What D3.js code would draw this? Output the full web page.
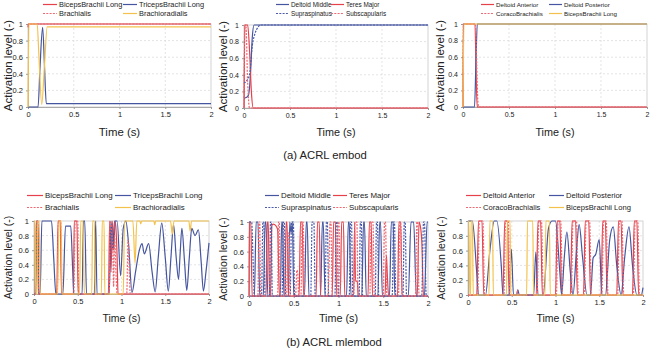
<!DOCTYPE html>
<html><head><meta charset="utf-8">
<script src="https://cdn.jsdelivr.net/npm/d3@7"></script>
<style>body{margin:0;background:#fff;} text{font-family:"Liberation Sans",Arial,sans-serif;fill:#222;}</style>
</head><body>
<svg id="chart" width="650" height="350"></svg>
<script>
// ---------- tick labels ----------
const xTickValues = [0, 0.5, 1, 1.5, 2];
const xTickLabels = ["0", "0.5", "1", "1.5", "2"];
const yTickValues = [0, 0.2, 0.4, 0.6, 0.8, 1];
const yTickLabels = ["0", "0.2", "0.4", "0.6", "0.8", "1"];
const captions = ["(a) ACRL embod", "(b) ACRL mlembod"];
const xTitle = "Time (s)";
const yTitle = "Activation level (-)";

// ---------- (a) ACRL embod : elbow ----------
const embodElbowNames = ["BicepsBrachii Long", "TricepsBrachii Long", "Brachialis", "Brachioradialis"];
const embodBicepsLong = [[0,0.96],[0.005,1],[2,1]];
const embodTriceps = [[0,0],[0.11,0],[0.13,0.45],[0.16,0.96],[0.18,0.5],[0.2,0.04],[0.3,0.04],[2,0.04]];
const embodBrachialis = [[0,0.98],[0.005,1],[2,1]];
const embodBrachioradialis = [[0,0],[0.01,1],[0.1,1],[0.12,0.6],[0.15,0.03],[0.18,0.5],[0.21,0.965],[0.3,0.965],[2,0.965]];

// ---------- (a) ACRL embod : shoulder ----------
const embodShoulderNames = ["Deltoid Middle", "Teres Major", "Supraspinatus", "Subscapularis"];
const embodDeltoidMiddle = [[0,0.12],[0.03,0.13],[0.05,0.16],[0.07,0.4],[0.09,0.85],[0.11,1],[0.2,1],[2,1]];
const embodTeresMajor = [[0,0],[0.01,1],[0.04,1],[0.06,0.7],[0.08,0.2],[0.1,0],[0.2,0],[2,0]];
const embodSupraspinatus = [[0,0.3],[0.03,0.33],[0.06,0.4],[0.09,0.75],[0.12,0.9],[0.15,0.97],[0.18,1],[0.3,1],[2,1]];
const embodSubscapularis = [[0,0],[0.008,1],[0.02,1],[0.04,0.3],[0.06,0],[0.2,0],[2,0]];

// ---------- (a) ACRL embod : shoulder 2 ----------
const embodShoulder2Names = ["Deltoid Anterior", "Deltoid Posterior", "CoracoBrachialis", "BicepsBrachii Long"];
const embodDeltoidAnterior = [[0,0],[0.005,1],[0.13,1],[0.145,0.3],[0.155,0],[0.3,0],[2,0]];
const embodDeltoidPosterior = [[0,0],[0.125,0],[0.14,0.5],[0.155,1],[0.3,1],[2,1]];
const embodCoracoBrachialis = [[0,0],[0.005,1],[0.135,1],[0.15,0.5],[0.16,0.1],[0.17,0],[0.3,0],[2,0]];
const embodBicepsLong2 = [[0,0],[0.01,1],[0.3,1],[2,1]];

// ---------- (b) ACRL mlembod : elbow ----------
const mlBicepsLong = [[0,0],[0.015,0],[0.025,1],[0.04,1],[0.05,0],[0.26,0],[0.275,1],[0.3,1],[0.315,0],[0.45,0],[0.46,1],[0.49,1],[0.505,0],[0.85,0],[0.865,1],[0.88,0.3],[0.895,1],[0.91,0.6],[0.93,1],[0.95,0.5],[0.96,0],[1.2,0],[2,0]];
const mlTriceps = [[0,0],[0.02,0],[0.035,1],[0.045,1],[0.055,0],[0.07,0],[0.09,1],[0.2,1],[0.225,0.5],[0.25,0],[0.33,0],[0.36,0.93],[0.42,0.93],[0.44,0.4],[0.455,0],[0.55,0],[0.565,1],[0.58,1],[0.6,0],[0.69,0],[0.705,1],[0.72,0],[0.86,0],[0.88,1],[0.9,0.6],[0.92,1],[0.95,1],[0.99,0.25],[1.02,0.9],[1.05,1],[1.08,0.7],[1.12,0.02],[1.16,0.3],[1.2,0.58],[1.235,0.69],[1.26,0.55],[1.31,0.69],[1.35,0.3],[1.385,0.03],[1.42,0.5],[1.46,0.97],[1.5,0.5],[1.535,0.04],[1.565,0.5],[1.595,0.95],[1.625,0.5],[1.652,0.2],[1.67,0.55],[1.69,0.9],[1.72,0.45],[1.746,0.05],[1.775,0.5],[1.803,0.9],[1.84,0.8],[1.879,0.88],[1.91,0.45],[1.936,0.04],[1.965,0.3],[2,0.7]];
const mlBrachialis = [[0,0],[0.02,0],[0.03,1],[0.045,1],[0.055,0],[0.265,0],[0.28,1],[0.305,1],[0.32,0],[0.455,0],[0.47,1],[0.5,1],[0.51,0],[0.86,0],[0.87,1],[0.9,0.6],[0.91,0.1],[0.92,0.8],[0.94,0.2],[0.95,0],[1.06,0],[1.075,0.74],[1.09,0.3],[1.1,0],[1.3,0],[2,0]];
const mlBrachioradialis = [[0,1],[0.01,1],[0.02,0],[0.035,0],[0.04,1],[0.06,1],[0.07,0],[0.27,0],[0.285,1],[0.31,1],[0.32,0],[0.52,0],[0.535,1],[0.56,1],[0.575,0],[0.66,0],[0.67,1],[0.69,1],[0.7,0],[0.77,0],[0.78,1],[0.8,1],[0.81,0],[1.02,0],[1.035,1],[1.13,1],[1.155,0.42],[1.175,1],[1.21,1],[1.22,0.96],[1.23,1],[1.37,1],[1.38,0.95],[1.39,1],[1.56,1],[1.58,0.82],[1.6,1],[1.77,1],[1.785,0.86],[1.8,1],[2,1]];

// ---------- (b) ACRL mlembod : shoulder ----------
const mlDeltoidMiddle = [[0,0],[0.06,0],[0.08,1],[0.1,1],[0.12,0],[0.16,0],[0.18,1],[0.19,1],[0.21,0],[0.35,0],[0.365,1],[0.375,1],[0.39,0],[0.44,0],[0.455,1],[0.47,0.85],[0.485,1],[0.5,0],[0.62,0],[0.64,1],[0.65,1],[0.67,0],[0.8,0],[0.82,1],[0.83,1],[0.85,0],[1.09,0],[1.11,1],[1.12,1],[1.14,0],[1.26,0],[1.28,1],[1.29,1],[1.31,0],[1.44,0],[1.46,1],[1.47,1],[1.49,0],[1.57,0],[1.59,1],[1.61,1],[1.63,0],[1.78,0],[1.81,1],[1.84,1],[1.87,0],[1.96,0],[1.99,1],[2,1]];
const mlTeresMajor = [[0,0],[0.005,1],[0.02,1],[0.035,0],[0.19,0],[0.205,1],[0.215,1],[0.23,0],[0.24,0],[0.255,0.95],[0.27,0.97],[0.3,0.95],[0.32,0.9],[0.34,0],[0.4,0],[0.415,1],[0.425,1],[0.44,0],[0.56,0],[0.575,1],[0.595,1],[0.61,0],[0.75,0],[0.765,1],[0.785,1],[0.8,0],[0.93,0],[0.945,1],[0.965,1],[0.98,0],[1.02,0],[1.035,1],[1.055,1],[1.07,0],[1.17,0],[1.18,1],[1.19,0.2],[1.21,0.2],[1.22,0],[1.33,0],[1.345,1],[1.365,1],[1.38,0],[1.52,0],[1.535,0.55],[1.545,0.3],[1.56,0],[1.66,0],[1.675,1],[1.695,1],[1.71,0],[1.88,0],[1.9,1],[1.92,0.9],[1.93,0.75],[1.95,0],[2,0]];
const mlSupraspinatus = [[0,1],[0.03,1],[0.045,0.5],[0.06,0],[0.14,0],[0.155,1],[0.165,1],[0.18,0],[0.23,0],[0.24,1],[0.25,1],[0.26,0],[0.37,0],[0.385,1],[0.395,1],[0.41,0],[0.46,0],[0.475,1],[0.495,1],[0.51,0],[0.69,0],[0.705,1],[0.725,1],[0.74,0],[0.85,0],[0.865,1],[0.875,1],[0.89,0],[0.96,0],[0.975,1],[0.985,1],[1.0,0],[1.12,0],[1.135,1],[1.145,1],[1.16,0],[1.23,0],[1.245,1],[1.255,1],[1.27,0],[1.41,0],[1.425,1],[1.435,1],[1.45,0],[1.6,0],[1.615,1],[1.625,1],[1.64,0],[1.72,0],[1.735,1],[1.745,1],[1.76,0],[1.93,0],[1.95,1],[1.96,1],[1.98,0],[2,0]];
const mlSubscapularis = [[0,0],[0.1,0],[0.11,1],[0.12,1],[0.13,0],[0.32,0],[0.33,1],[0.34,1],[0.35,0],[0.42,0],[0.435,0.85],[0.445,0.85],[0.46,0],[0.52,0],[0.535,0.35],[0.545,0.3],[0.555,0],[0.58,0],[0.595,1],[0.605,1],[0.62,0],[0.88,0],[0.895,0.4],[0.905,1],[0.915,1],[0.93,0],[0.98,0],[0.995,1],[1.005,1],[1.02,0],[1.17,0],[1.185,1],[1.205,1],[1.22,0],[1.35,0],[1.365,1],[1.385,1],[1.4,0],[1.5,0],[1.515,1],[1.525,1],[1.54,0],[1.67,0],[1.685,1],[1.695,1],[1.71,0],[1.86,0],[1.875,1],[1.885,1],[1.9,0],[2,0]];

// ---------- (b) ACRL mlembod : shoulder 2 ----------
const mlDeltoidAnterior = [[0,0],[0.1,0],[0.12,1],[0.16,1],[0.18,0],[0.4,0],[0.42,1],[0.45,1],[0.47,0],[0.78,0],[0.8,1],[0.83,1],[0.85,0],[1.0,0],[1.02,1],[1.05,1],[1.07,0],[1.17,0],[1.19,1],[1.23,1],[1.25,0],[1.32,0],[1.34,1],[1.38,1],[1.4,0],[1.52,0],[1.54,1],[1.57,1],[1.59,0],[1.7,0],[1.72,1],[1.75,1],[1.77,0],[1.88,0],[1.9,1],[1.93,1],[1.95,0],[2,0]];
const mlDeltoidPosterior = [[0,1],[0.05,1],[0.1,0.3],[0.12,0],[0.2,0],[0.25,0.6],[0.3,1],[0.33,1],[0.38,0.4],[0.4,0],[0.47,0],[0.495,0.62],[0.52,0],[0.555,0],[0.57,0.07],[0.585,0],[0.75,0],[0.775,0.58],[0.8,0],[0.86,0],[0.92,0.9],[0.96,1],[1.0,1],[1.05,0.3],[1.07,0],[1.1,0.5],[1.13,0.85],[1.17,0.3],[1.2,0],[1.24,0.6],[1.27,0.95],[1.31,0.5],[1.36,0],[1.4,0],[1.43,0.5],[1.46,0.55],[1.5,0.75],[1.53,0],[1.57,0],[1.62,0.75],[1.66,0.92],[1.7,0.4],[1.75,0],[1.79,0.5],[1.84,0.92],[1.88,0.4],[1.93,0],[1.98,0],[2,0.1]];
const mlCoracoBrachialis = [[0,0],[0.11,0],[0.13,1],[0.17,1],[0.19,0],[0.41,0],[0.43,1],[0.46,1],[0.48,0],[0.56,0],[0.565,0.07],[0.575,0],[0.79,0],[0.81,1],[0.84,1],[0.86,0],[1.01,0],[1.03,1],[1.06,1],[1.08,0],[1.18,0],[1.2,1],[1.24,1],[1.26,0],[1.33,0],[1.35,1],[1.39,1],[1.41,0],[1.53,0],[1.55,1],[1.58,1],[1.6,0],[1.71,0],[1.73,1],[1.76,1],[1.78,0],[1.89,0],[1.91,1],[1.94,1],[1.96,0],[2,0]];
const mlBicepsLong2 = [[0,1],[0.01,1],[0.02,0],[0.03,0],[0.035,1],[0.05,1],[0.06,0],[0.24,0],[0.25,1],[0.28,1],[0.29,0],[0.44,0],[0.45,1],[0.48,1],[0.49,0],[0.67,0],[0.68,1],[0.74,1],[0.75,0],[0.88,0],[0.89,1],[0.93,1],[0.94,0],[2,0]];

// ---------- styles ----------
const RED = "#e6404a", BLUE = "#45559f", YEL = "#f4c24c", RED_D = "#ec6872", BLUE_D = "#4a5aa8";

const panels = [
  {x0:28,x1:211,yt:24,yb:107,tick:7.5,leg:7.4,axT:11.4,yT:11.5,xTitleY:136,yTitleX:12,legY:[7,16],legX:[43,123],lineLen:14,
   names:embodElbowNames,data:[embodBicepsLong,embodTriceps,embodBrachialis,embodBrachioradialis]},
  {x0:244,x1:428,yt:25,yb:108,tick:7,leg:6.4,axT:10.8,yT:11.5,xTitleY:136,yTitleX:227,legY:[7,16],legX:[276,331],lineLen:13,
   names:embodShoulderNames,data:[embodDeltoidMiddle,embodTeresMajor,embodSupraspinatus,embodSubscapularis]},
  {x0:463,x1:647,yt:24,yb:107,tick:7,leg:6.2,axT:10.8,yT:11.5,xTitleY:136,yTitleX:444,legY:[7,16],legX:[481,549],lineLen:13,
   names:embodShoulder2Names,data:[embodDeltoidAnterior,embodDeltoidPosterior,embodCoracoBrachialis,embodBicepsLong2]},
  {x0:34,x1:209,yt:221,yb:294,tick:7.5,leg:7.9,axT:10.5,yT:10.5,xTitleY:322,yTitleX:12,legY:[198,210],legX:[27,115],lineLen:16,
   names:embodElbowNames,data:[mlBicepsLong,mlTriceps,mlBrachialis,mlBrachioradialis]},
  {x0:249,x1:428,yt:222,yb:296,tick:7.5,leg:7.9,axT:10.8,yT:10.5,xTitleY:322,yTitleX:227,legY:[198,210],legX:[265,333],lineLen:14,
   names:embodShoulderNames,data:[mlDeltoidMiddle,mlTeresMajor,mlSupraspinatus,mlSubscapularis]},
  {x0:468,x1:643,yt:221,yb:295,tick:7.5,leg:7.6,axT:10.5,yT:10.5,xTitleY:322,yTitleX:445,legY:[198,210],legX:[466,549],lineLen:15,
   names:embodShoulder2Names,data:[mlDeltoidAnterior,mlDeltoidPosterior,mlCoracoBrachialis,mlBicepsLong2]}
];
// per-panel series styles (order: col1 row1, col2 row1, col1 row2, col2 row2)
const styleSets = [
  [{c:RED,d:null},{c:BLUE,d:null},{c:RED_D,d:"2,1.3"},{c:YEL,d:null}],
  [{c:BLUE,d:null},{c:RED,d:null},{c:BLUE_D,d:"2,1.3"},{c:RED_D,d:"2,1.3"}],
  [{c:RED,d:null},{c:BLUE,d:null},{c:RED_D,d:"2,1.3"},{c:YEL,d:null}]
];

const svg = d3.select("#chart");

panels.forEach((p, pi) => {
  const styles = styleSets[pi % 3];
  const x = d3.scaleLinear().domain([0, 2]).range([p.x0, p.x1]);
  const y = d3.scaleLinear().domain([0, 1]).range([p.yb, p.yt]);
  const g = svg.append("g");

  // grid
  g.selectAll(".hg").data(yTickValues.filter(v => v > 0 && v < 1)).enter().append("line")
    .attr("x1", p.x0).attr("x2", p.x1).attr("y1", d => y(d)).attr("y2", d => y(d))
    .attr("stroke", "#d9d9d9").attr("stroke-width", 0.7).attr("stroke-dasharray", "2,2");
  g.selectAll(".vg").data(xTickValues.filter(v => v > 0 && v < 2)).enter().append("line")
    .attr("y1", p.yt).attr("y2", p.yb).attr("x1", d => x(d)).attr("x2", d => x(d))
    .attr("stroke", "#d9d9d9").attr("stroke-width", 0.7).attr("stroke-dasharray", "2,2");
  g.append("rect").attr("x", p.x0).attr("y", p.yt).attr("width", p.x1 - p.x0).attr("height", p.yb - p.yt)
    .attr("fill", "none").attr("stroke", "#c8c8c8").attr("stroke-width", 0.8);

  // axes
  const xa = g.append("g").attr("transform", `translate(0,${p.yb})`)
    .call(d3.axisBottom(x).tickValues(xTickValues).tickFormat((d, i) => xTickLabels[i]).tickSize(2).tickPadding(3));
  const ya = g.append("g").attr("transform", `translate(${p.x0},0)`)
    .call(d3.axisLeft(y).tickValues(yTickValues).tickFormat((d, i) => yTickLabels[i]).tickSize(2).tickPadding(3));
  [xa, ya].forEach(a => {
    a.select(".domain").attr("stroke", "#999").attr("stroke-width", 0.8);
    a.selectAll(".tick line").attr("stroke", "#999");
    a.selectAll(".tick text").attr("font-size", p.tick).attr("font-family", "Liberation Sans, Arial, sans-serif").attr("fill", "#222");
  });

  // lines
  const line = d3.line().x(d => x(d[0])).y(d => y(d[1])).curve(d3.curveMonotoneX);
  p.data.forEach((ser, si) => {
    g.append("path").datum(ser).attr("d", line).attr("fill", "none")
      .attr("stroke", styles[si].c).attr("stroke-width", 1.2)
      .attr("stroke-dasharray", styles[si].d).attr("stroke-linejoin", "round");
  });

  // titles
  g.append("text").attr("x", (p.x0 + p.x1) / 2).attr("y", p.xTitleY).attr("text-anchor", "middle")
    .attr("font-size", p.axT).text(xTitle);
  g.append("text").attr("transform", `translate(${p.yTitleX},${(p.yt + p.yb) / 2}) rotate(-90)`)
    .attr("text-anchor", "middle").attr("font-size", p.yT).text(yTitle);

  // legend
  p.names.forEach((nm, si) => {
    const col = si % 2, row = Math.floor(si / 2);
    const lx = p.legX[col], ly = p.legY[row] - 2.5;
    g.append("line").attr("x1", lx).attr("x2", lx + p.lineLen).attr("y1", ly).attr("y2", ly)
      .attr("stroke", styles[si].c).attr("stroke-width", 1.2).attr("stroke-dasharray", styles[si].d);
    g.append("text").attr("x", lx + p.lineLen + 2).attr("y", p.legY[row]).attr("font-size", p.leg).text(nm);
  });
});

svg.append("text").attr("x", 325).attr("y", 159).attr("text-anchor", "middle").attr("font-size", 11.3).text(captions[0]);
svg.append("text").attr("x", 334).attr("y", 346).attr("text-anchor", "middle").attr("font-size", 11.3).text(captions[1]);
</script>
</body></html>
